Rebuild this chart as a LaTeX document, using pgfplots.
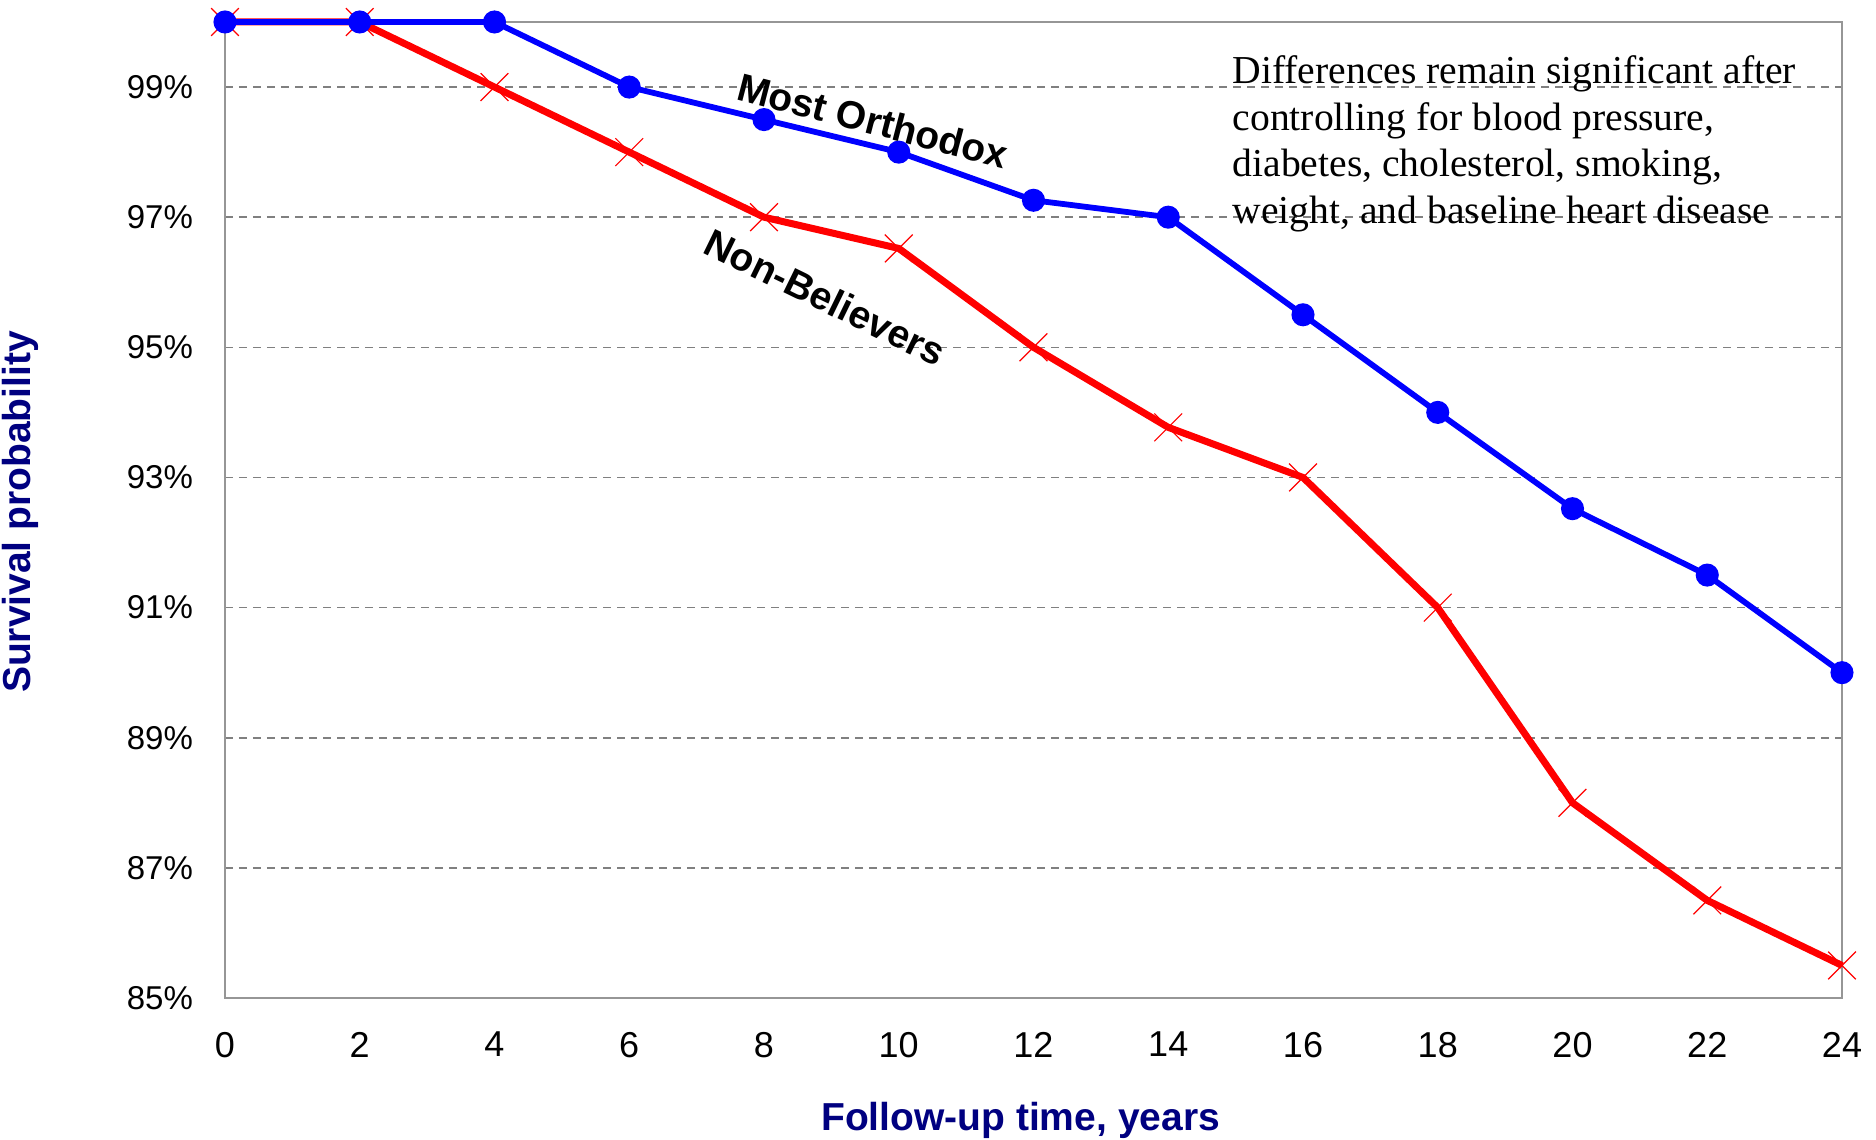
\documentclass[border=0pt]{standalone}
\usepackage{fontspec}
\setmainfont{Liberation Sans}
\newfontfamily\timesfont{Liberation Serif}
\usepackage{pgfplots}
\pgfplotsset{compat=1.18}
\definecolor{navy}{RGB}{0,0,128}
\definecolor{gridgray}{RGB}{128,128,128}
\definecolor{framegray}{RGB}{150,150,150}
\begin{document}
\begin{tikzpicture}
\useasboundingbox (0,0) rectangle (938pt,570pt);
\begin{axis}[
  at={(112.5pt,71pt)}, anchor=south west,
  scale only axis, width=808.5pt, height=488pt,
  xmin=0, xmax=24, ymin=85, ymax=100,
  xtick={0,2,...,24}, ytick={85,87,...,99},
  yticklabels={85\%,87\%,89\%,91\%,93\%,95\%,97\%,99\%},
  /pgf/number format/assume math mode=true,
  major tick length=0pt,
  axis line style={framegray, line width=0.8pt},
  ymajorgrids,
  grid style={gridgray, line width=0.8pt, dash pattern=on 4pt off 3pt},
  yticklabel style={font=\fontsize{16.5}{16.5}\selectfont, xshift=-12.5pt},
  xticklabel style={font=\fontsize{18}{18}\selectfont, yshift=-13.5pt},
  xlabel={Follow-up time, years},
  ylabel={Survival probability},
  xlabel style={at={(axis description cs:0.492,0)}, anchor=center, yshift=-61pt,
     font=\bfseries\fontsize{19.5}{19.5}\selectfont, text=navy},
  ylabel style={at={(axis description cs:-0.1268,0.498)}, anchor=center,
     font=\bfseries\fontsize{19.5}{19.5}\selectfont, text=navy},
  clip=false,
]
\addplot[red, line width=3.5pt, mark=x, mark size=9.8pt,
  mark options={line width=0.6pt, solid}] coordinates {
  (0,100) (2,100) (4,99) (6,98) (8,97) (10,96.52) (12,95) (14,93.77)
  (16,93) (18,91) (20,88) (22,86.5) (24,85.5)};
\addplot[blue, line width=2.9pt, mark=*, mark size=4.3pt] coordinates {
  (0,100) (2,100) (4,100) (6,99) (8,98.5) (10,98) (12,97.26) (14,97)
  (16,95.5) (18,94) (20,92.52) (22,91.5) (24,90)};
\node[font=\bfseries\fontsize{19.5}{19.5}\selectfont, rotate=-14.5]
  at (axis cs:9.62,98.49) {Most Orthodox};
\node[font=\bfseries\fontsize{19.5}{19.5}\selectfont, rotate=-26]
  at (axis cs:8.91,95.77) {Non-Believers};
\node[anchor=north west, inner sep=0pt, align=left,
  font=\timesfont\fontsize{19.8}{23.3}\selectfont]
  at (axis cs:14.95,99.49) {Differences remain significant after\\controlling for blood pressure,\\diabetes, cholesterol, smoking,\\weight, and baseline heart disease};
\end{axis}
\end{tikzpicture}
\end{document}
